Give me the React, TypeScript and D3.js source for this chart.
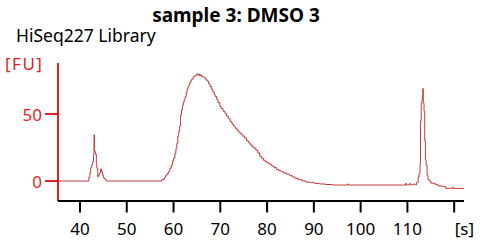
import * as d3 from "d3";

const title = "sample 3: DMSO 3";
const subtitle = "HiSeq227 Library";
const yUnit = "[FU]";
const xUnit = "[s]";
const xTicks = [40, 50, 60, 70, 80, 90, 100, 110];
const xUnitTick = 120;
const yTicks = [0, 50];

// [time s, fluorescence FU]
const lowerMarker: [number, number][] = [
  [35.3, 0], [41.6, 0], [41.9, 3], [42.1, 6], [42.3, 10], [42.5, 12], [42.7, 14.5],
  [42.9, 20], [43.0, 34.5], [43.1, 22], [43.3, 20], [43.5, 12], [43.6, 9.5],
  [43.8, 3.2], [44.0, 4.5], [44.2, 6], [44.4, 9], [44.6, 7], [44.8, 4.5],
  [45.0, 2.5], [45.2, 1.5], [45.5, 0.5], [45.7, 0],
];

const libraryPeak: [number, number][] = [
  [57.0, 0], [57.5, 1], [58.0, 2.5], [58.3, 4], [58.6, 5.5], [58.9, 7], [59.2, 9.5],
  [59.5, 12], [59.8, 15], [60.0, 17], [60.3, 20.5], [60.5, 24], [60.7, 28],
  [60.9, 33], [61.1, 37], [61.3, 41], [61.5, 49], [61.7, 53], [61.9, 56.5],
  [62.1, 59], [62.3, 61], [62.5, 63], [62.7, 66], [62.9, 68.5], [63.1, 70.5],
  [63.3, 72], [63.5, 73.5], [63.7, 75], [63.9, 76], [64.2, 77.8], [64.5, 78.5],
  [64.8, 79], [65.0, 80], [65.2, 79], [65.4, 79.8], [65.6, 78.5], [65.8, 79.2],
  [66.0, 78], [66.3, 77.5], [66.6, 77], [66.9, 75.5], [67.2, 74.5], [67.5, 72.5],
  [67.8, 70.5], [68.1, 68.5], [68.4, 66.5], [68.7, 64.5], [68.9, 63], [69.2, 61],
  [69.5, 58.5], [69.9, 55.5], [70.2, 54], [70.6, 52], [71.0, 50.5], [71.3, 48.5],
  [71.7, 46.5], [72.1, 44.3], [72.5, 42.5], [72.8, 41], [73.2, 39.3], [73.6, 37.5],
  [74.0, 36], [74.4, 35], [74.8, 33.5], [75.2, 32], [75.6, 30], [76.0, 28.5],
  [76.4, 27], [76.8, 25.5], [77.2, 24.5], [77.6, 23], [78.0, 21], [78.4, 18.5],
  [78.8, 17], [79.2, 15.5], [79.6, 14.4], [80.0, 13.5], [80.5, 12.5], [81.0, 11.2],
  [81.5, 10], [82.0, 8.5], [82.5, 7.7], [83.0, 7], [83.5, 6], [84.2, 5.2],
  [84.8, 4], [85.4, 3], [86.0, 2], [86.7, 1], [87.5, 0],
];

const baselineTail: [number, number][] = [
  [88.3, -0.8], [89.2, -1.2], [90.2, -1.8], [91.2, -2.2], [92.4, -2.6], [94.0, -3],
  [97.2, -2.2], [97.4, -3], [109.6, -1.8], [109.8, -3], [110.4, -2], [110.7, -2.8],
  [111.3, -2.3], [111.7, -2.8],
];

const upperMarker: [number, number][] = [
  [112.0, -1], [112.3, 3], [112.5, 6], [112.7, 13], [112.8, 45], [112.95, 58],
  [113.1, 60], [113.2, 64], [113.3, 69], [113.4, 58], [113.55, 52], [113.7, 30],
  [113.85, 16], [114.0, 12], [114.2, 4], [114.4, 1], [114.7, 0], [115.0, -1.5],
  [115.5, -2], [116.0, -2.5], [116.5, -3.7], [117.5, -4], [118.2, -5.5],
  [119.5, -5.5], [119.7, -4.5], [119.8, -5.5], [122.1, -5.5],
];

const trace = [...lowerMarker, ...libraryPeak, ...baselineTail, ...upperMarker];

const W = 490;
const H = 244;
const left = 58;
const right = 464;
const top = 63;
const bottom = 201;

const axisRed = "#e41f1f";
const traceRed = "#c43c3c";
const font = "'Noto Sans', 'DejaVu Sans', sans-serif";

export default function App() {
  const x = d3.scaleLinear().domain([35.3, 122.1]).range([left, right]);
  const y = d3.scaleLinear().domain([-14.9, 88]).range([bottom, top]);

  const line = d3
    .line<[number, number]>()
    .x((d) => x(d[0]))
    .y((d) => y(d[1]))
    .curve(d3.curveStepAfter);

  return (
    <svg
      width={W}
      height={H}
      style={{ position: "absolute", left: 0, top: 0, display: "block", background: "#fff" }}
      fontFamily={font}
    >
      <text x={236} y={21.5} textAnchor="middle" fontSize={19} fontWeight="bold" fill="#000">
        {title}
      </text>
      <text x={16} y={41.5} fontSize={17.5} fill="#000">
        {subtitle}
      </text>
      <text x={5} y={70} fontSize={17} fill={axisRed} letterSpacing={1.5}>
        {yUnit}
      </text>

      <path d={line(trace) ?? ""} fill="none" stroke={traceRed} strokeWidth={1} />

      {/* y axis */}
      <line x1={left} x2={left} y1={top} y2={bottom} stroke={axisRed} strokeWidth={2} />
      {yTicks.map((t) => (
        <g key={t}>
          <line x1={45} x2={left} y1={y(t)} y2={y(t)} stroke={axisRed} strokeWidth={2} />
          <text x={42} y={y(t) + 6.8} textAnchor="end" fontSize={17} fill={axisRed}>
            {t}
          </text>
        </g>
      ))}

      {/* x axis */}
      <line x1={left} x2={right} y1={bottom} y2={bottom} stroke="#000" strokeWidth={2} />
      {[...xTicks, xUnitTick].map((t) => (
        <line key={t} x1={x(t)} x2={x(t)} y1={bottom} y2={212.5} stroke="#000" strokeWidth={2} />
      ))}
      {xTicks.map((t) => (
        <text key={t} x={x(t)} y={234.5} textAnchor="middle" fontSize={17} fill="#000">
          {t}
        </text>
      ))}
      <text x={x(xUnitTick) + 0.5} y={234.5} textAnchor="start" fontSize={17} fill="#000">
        {xUnit}
      </text>
    </svg>
  );
}
